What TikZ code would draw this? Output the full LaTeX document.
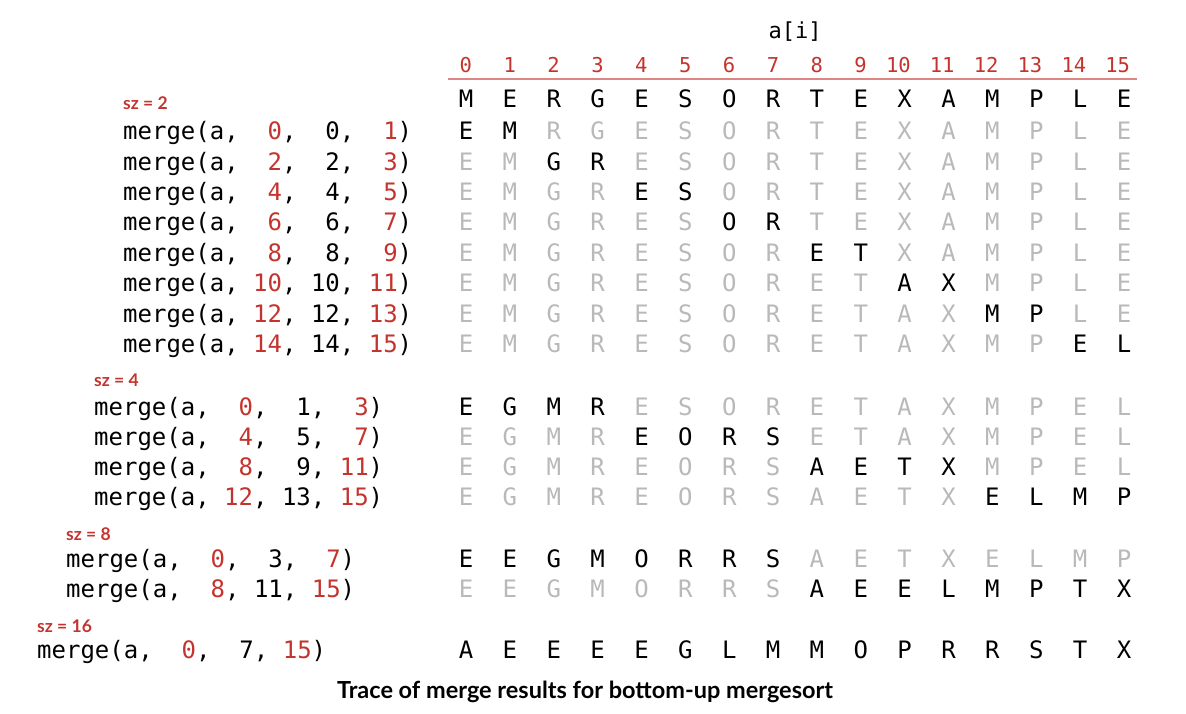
\documentclass[tikz,border=0pt]{standalone}
\usepackage{xcolor}
\usepackage{fontspec}
\usepackage{tikz}
\newfontfamily\codefont{DejaVu Sans Mono}
\newfontfamily\labelfont{Lato}
\definecolor{trred}{RGB}{196,52,46}
\definecolor{trgray}{RGB}{185,185,185}
\newcommand\redfig[1]{\makebox[1.204em][r]{\textcolor{trred}{#1}}}
\newcommand\blkfig[1]{\makebox[1.204em][r]{#1}}
\newcommand\mergecall[3]{merge(a,~\redfig{#1},~\blkfig{#2},~\redfig{#3})}
\tikzset{
  cell/.style={inner sep=0pt, anchor=base, font=\codefont\fontsize{24}{28}\selectfont},
  idx/.style={inner sep=0pt, anchor=base east, text=trred, font=\codefont\fontsize{20.5}{24}\selectfont},
  call/.style={inner sep=0pt, anchor=base west, font=\codefont\fontsize{24}{28}\selectfont},
  szlabel/.style={inner sep=0pt, anchor=base west, text=trred, font=\labelfont\bfseries\fontsize{17.5}{20}\selectfont},
}

\begin{document}
\begin{tikzpicture}[x=1pt, y=-1pt]
  \useasboundingbox (0,0) rectangle (1186,714);

  % header: a[i], indices and rule
  \node[inner sep=0pt, font=\codefont\fontsize{22}{26}\selectfont] (ahead) at (795,32) {a[i]};
  \foreach \i in {0,...,15} {
    \node[idx] (idx-\i) at (466+43.87*\i+6.2, 73) {\i};
  }
  \coordinate (rule-l) at (448,79);
  \coordinate (rule-r) at (1137,79);
  \draw[trred!60, line width=2.5pt] (rule-l) -- (rule-r);

  % input array
  \foreach \ch [count=\i from 0] in {M,E,R,G,E,S,O,R,T,E,X,A,M,P,L,E} {
    \node[cell] (in-\i) at (466+43.87*\i, 108) {\ch};
  }

  % pass labels
  \node[szlabel] (sz2) at (123,110) {sz = 2};
  \node[szlabel] (sz4) at (94,386) {sz = 4};
  \node[szlabel] (sz8) at (66,540) {sz = 8};
  \node[szlabel] (sz16) at (37,632) {sz = 16};

  % merge calls and resulting arrays
  \foreach \yb/\lo/\md/\hi/\xl/\word [count=\r] in {
      140/0/0/1/123/{E,M,R,G,E,S,O,R,T,E,X,A,M,P,L,E},
      170.3/2/2/3/123/{E,M,G,R,E,S,O,R,T,E,X,A,M,P,L,E},
      200.7/4/4/5/123/{E,M,G,R,E,S,O,R,T,E,X,A,M,P,L,E},
      231/6/6/7/123/{E,M,G,R,E,S,O,R,T,E,X,A,M,P,L,E},
      261.3/8/8/9/123/{E,M,G,R,E,S,O,R,E,T,X,A,M,P,L,E},
      291.7/10/10/11/123/{E,M,G,R,E,S,O,R,E,T,A,X,M,P,L,E},
      322/12/12/13/123/{E,M,G,R,E,S,O,R,E,T,A,X,M,P,L,E},
      352.3/14/14/15/123/{E,M,G,R,E,S,O,R,E,T,A,X,M,P,E,L},
      415/0/1/3/94/{E,G,M,R,E,S,O,R,E,T,A,X,M,P,E,L},
      445/4/5/7/94/{E,G,M,R,E,O,R,S,E,T,A,X,M,P,E,L},
      475/8/9/11/94/{E,G,M,R,E,O,R,S,A,E,T,X,M,P,E,L},
      505/12/13/15/94/{E,G,M,R,E,O,R,S,A,E,T,X,E,L,M,P},
      567/0/3/7/66/{E,E,G,M,O,R,R,S,A,E,T,X,E,L,M,P},
      597/8/11/15/66/{E,E,G,M,O,R,R,S,A,E,E,L,M,P,T,X},
      658/0/7/15/37/{A,E,E,E,E,G,L,M,M,O,P,R,R,S,T,X}} {
    \node[call] (call-\r) at (\xl,\yb) {\mergecall{\lo}{\md}{\hi}};
    \foreach \ch [count=\i from 0] in \word {
      \ifnum\i<\lo \def\cc{trgray}\else\ifnum\i>\hi \def\cc{trgray}\else\def\cc{black}\fi\fi
      \node[cell, text=\cc] (cell-\r-\i) at (466+43.87*\i, \yb) {\ch};
    }
  }

  \node[font=\labelfont\bfseries\fontsize{23.5}{27}\selectfont] (caption) at (585,692)
    {Trace of merge results for bottom-up mergesort};
\end{tikzpicture}
\end{document}
